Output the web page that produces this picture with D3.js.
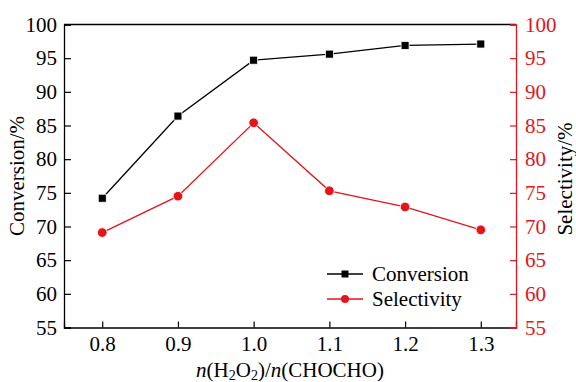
<!DOCTYPE html>
<html>
<head>
<meta charset="utf-8">
<script src="https://cdn.jsdelivr.net/npm/d3@7"></script>
<style>
  body { margin: 0; background: #fff; }
  text { font-family: "Liberation Serif", "Times New Roman", serif; }
</style>
</head>
<body>
<div id="chart"></div>
<script>
const ratios = [0.8, 0.9, 1.0, 1.1, 1.2, 1.3];
const conversion = [74.2, 86.4, 94.7, 95.6, 96.9, 97.1];
const selectivity = [69.1, 74.5, 85.4, 75.3, 72.9, 69.5];
const yTicks = [55, 60, 65, 70, 75, 80, 85, 90, 95, 100];

const W = 576, H = 382;
const margin = {left: 64, right: 60, top: 24.5, bottom: 54.5};
const red = '#e3141b';

const svg = d3.select('#chart').append('svg')
  .attr('width', W)
  .attr('height', H);

const x = d3.scaleLinear()
  .domain([0.7495, 1.3465])
  .range([margin.left, W - margin.right]);

const y = d3.scaleLinear()
  .domain([55, 100])
  .range([H - margin.bottom, margin.top]);

const fs = '21px';

// top border of the frame
svg.append('line')
  .attr('x1', x.range()[0]).attr('x2', x.range()[1])
  .attr('y1', margin.top).attr('y2', margin.top)
  .attr('stroke', '#000').attr('stroke-width', 1.3);

const xAxis = svg.append('g')
  .attr('transform', `translate(0,${H - margin.bottom})`)
  .call(d3.axisBottom(x).tickValues(ratios).tickSize(-6).tickPadding(9)
    .tickFormat(d3.format('.1f')));
xAxis.select('.domain').attr('stroke-width', 1.3);
xAxis.selectAll('.tick line').attr('stroke-width', 1.2);
xAxis.selectAll('text').style('font-size', fs).attr('fill', '#000');

const yLeft = svg.append('g')
  .attr('transform', `translate(${margin.left},0)`)
  .call(d3.axisLeft(y).tickValues(yTicks).tickSize(-7).tickPadding(7));
yLeft.select('.domain').attr('stroke-width', 1.3);
yLeft.selectAll('.tick line').attr('stroke-width', 1.2);
yLeft.selectAll('text').style('font-size', fs).attr('fill', '#000');

const yRight = svg.append('g')
  .attr('transform', `translate(${W - margin.right},0)`)
  .call(d3.axisRight(y).tickValues(yTicks).tickSize(-6).tickPadding(9));
yRight.select('.domain').attr('stroke', red).attr('stroke-width', 1.3);
yRight.selectAll('.tick line').attr('stroke', red).attr('stroke-width', 1.2);
yRight.selectAll('text').style('font-size', fs).attr('fill', red);

// series lines
const line = (vals) => d3.line()
  .x((d, i) => x(ratios[i]))
  .y(d => y(d))(vals);

svg.append('path')
  .attr('d', line(conversion))
  .attr('fill', 'none').attr('stroke', '#000').attr('stroke-width', 1.3);

svg.append('path')
  .attr('d', line(selectivity))
  .attr('fill', 'none').attr('stroke', red).attr('stroke-width', 1.3);

svg.selectAll('.sq')
  .data(conversion)
  .enter().append('rect')
  .attr('x', (d, i) => x(ratios[i]) - 4)
  .attr('y', d => y(d) - 4)
  .attr('width', 8).attr('height', 8)
  .attr('fill', '#000')
  .attr('stroke', '#fff').attr('stroke-width', 0.8);

svg.selectAll('.dot')
  .data(selectivity)
  .enter().append('circle')
  .attr('cx', (d, i) => x(ratios[i]))
  .attr('cy', d => y(d))
  .attr('r', 4.8)
  .attr('fill', red)
  .attr('stroke', '#fff').attr('stroke-width', 0.8);

// legend
const legend = svg.append('g').attr('transform', 'translate(327,274)');
const items = [
  {name: 'Conversion', color: '#000', shape: 'square'},
  {name: 'Selectivity', color: red, shape: 'circle'}
];
items.forEach((it, i) => {
  const g = legend.append('g').attr('transform', `translate(0,${i * 25})`);
  g.append('line').attr('x1', 0).attr('x2', 36).attr('y1', 0).attr('y2', 0)
    .attr('stroke', it.color).attr('stroke-width', 1.3);
  if (it.shape === 'square') {
    g.append('rect').attr('x', 14.5).attr('y', -3.5).attr('width', 7).attr('height', 7).attr('fill', it.color);
  } else {
    g.append('circle').attr('cx', 18).attr('cy', 0).attr('r', 4).attr('fill', it.color);
  }
  g.append('text').attr('x', 45).attr('y', 7)
    .style('font-size', fs).attr('fill', '#000').text(it.name);
});

// axis titles
const midY = (margin.top + H - margin.bottom) / 2;
svg.append('text')
  .attr('transform', `translate(24,${midY}) rotate(-90)`)
  .attr('text-anchor', 'middle')
  .style('font-size', fs)
  .text('Conversion/%');

svg.append('text')
  .attr('transform', `translate(572,${midY + 3}) rotate(-90)`)
  .attr('text-anchor', 'middle')
  .style('font-size', fs)
  .text('Selectivity/%');

const xt = svg.append('text')
  .attr('x', (x.range()[0] + x.range()[1]) / 2)
  .attr('y', 377)
  .attr('text-anchor', 'middle')
  .style('font-size', fs);
xt.append('tspan').attr('font-style', 'italic').text('n');
xt.append('tspan').text('(H');
xt.append('tspan').attr('dy', 2.5).style('font-size', '14px').text('2');
xt.append('tspan').attr('dy', -2.5).text('O');
xt.append('tspan').attr('dy', 2.5).style('font-size', '14px').text('2');
xt.append('tspan').attr('dy', -2.5).text(')/');
xt.append('tspan').attr('font-style', 'italic').text('n');
xt.append('tspan').text('(CHOCHO)');
</script>
</body>
</html>
